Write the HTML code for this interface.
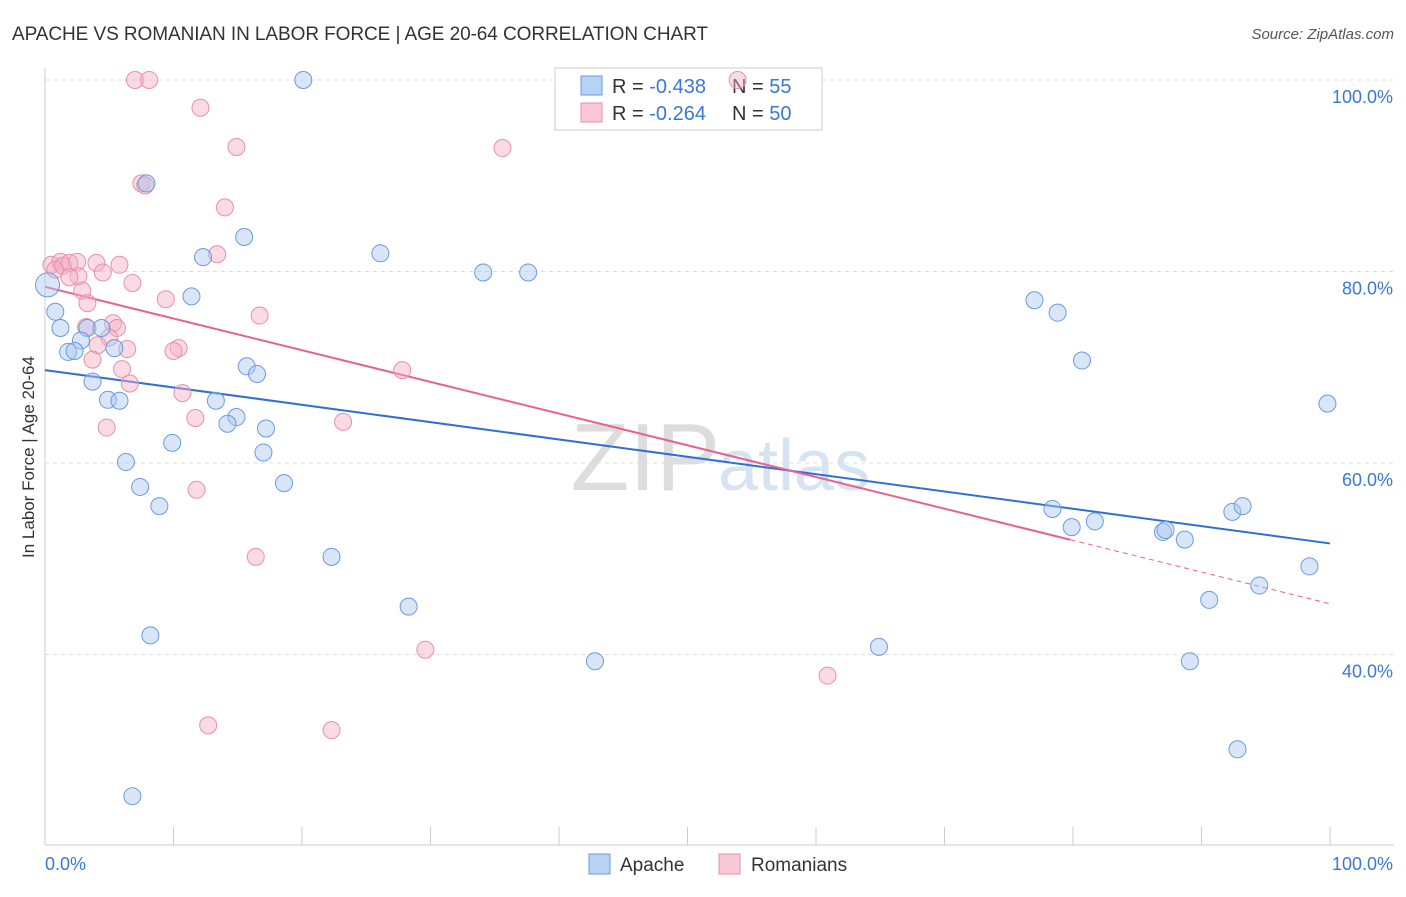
<!DOCTYPE html>
<html><head><meta charset="utf-8"><style>
body{margin:0;background:#fff;font-family:"Liberation Sans",sans-serif}
svg text{font-family:"Liberation Sans",sans-serif}
</style></head><body>
<svg id="c" width="1406" height="892">
<text x="12" y="40" font-size="19" fill="#333" textLength="696">APACHE VS ROMANIAN IN LABOR FORCE | AGE 20-64 CORRELATION CHART</text>
<text x="1394" y="39" font-size="15" fill="#555" text-anchor="end" font-style="italic">Source: ZipAtlas.com</text>
<text x="720" y="490" font-size="96" fill="#ddd" text-anchor="end" font-family="Liberation Serif">ZIP</text>
<text x="718" y="490" font-size="72" fill="#d5e3f3">atlas</text>
<text transform="translate(34,457) rotate(-90)" font-size="17" fill="#333" text-anchor="middle">In Labor Force | Age 20-64</text>
<g id="grid"></g><g id="trend"></g>
<g>
<rect x="555" y="68" width="267" height="62" fill="#fff" stroke="#ccc"/>
<rect x="581" y="76" width="21" height="19" fill="#b8d2f4" stroke="#6a9be0"/>
<rect x="581" y="103" width="21" height="19" fill="#f9c9d6" stroke="#e890a8"/>
<text x="612" y="93" font-size="20" fill="#333">R = <tspan fill="#3a78d8">-0.438</tspan></text>
<text x="732" y="93" font-size="20" fill="#333">N = <tspan fill="#3a78d8">55</tspan></text>
<text x="612" y="120" font-size="20" fill="#333">R = <tspan fill="#3a78d8">-0.264</tspan></text>
<text x="732" y="120" font-size="20" fill="#333">N = <tspan fill="#3a78d8">50</tspan></text>
</g>
<g id="pts"></g>
<g>
<rect x="589" y="854" width="21" height="20" fill="#b8d2f4" stroke="#6a9be0"/>
<text x="620" y="871" font-size="19" fill="#333">Apache</text>
<rect x="719" y="854" width="21" height="20" fill="#f9c9d6" stroke="#e890a8"/>
<text x="751" y="871" font-size="19" fill="#333">Romanians</text>
</g>
</svg>
<script>
const yTicks=[100,80,60,40];
const yTickLabels=["100.0%","80.0%","60.0%","40.0%"];
const xTickCount=10;
const apacheX=[20.1,7.9,15.5,12.3,26.1,34.1,37.6,11.4,0.8,1.2,3.3,4.4,2.8,5.4,1.8,2.3,15.7,16.5,3.7,4.9,5.8,13.3,14.9,14.2,17.2,9.9,17.0,6.3,18.6,7.4,8.9,22.3,28.3,8.2,42.8,64.9,6.8,77.0,78.8,80.7,99.8,78.4,79.9,81.7,87.0,87.2,88.7,92.4,93.2,90.6,94.5,98.4,89.1,92.8,0.2];
const apacheY=[100,89.2,83.6,81.5,81.9,79.9,79.9,77.4,75.8,74.1,74.1,74.1,72.8,72.0,71.6,71.7,70.1,69.3,68.5,66.6,66.5,66.5,64.8,64.1,63.6,62.1,61.1,60.1,57.9,57.5,55.5,50.2,45.0,42.0,39.3,40.8,25.2,77.0,75.7,70.7,66.2,55.2,53.3,53.9,52.8,53.0,52.0,54.9,55.5,45.7,47.2,49.2,39.3,30.1,78.6];
const romX=[7.0,8.1,12.1,14.9,35.6,7.5,7.8,14.0,13.4,0.5,1.2,0.8,1.4,1.9,2.5,4.0,5.8,4.5,2.6,1.9,2.9,6.8,9.4,3.3,16.7,5.3,3.2,5.6,5.0,4.1,6.4,10.4,10.0,3.7,6.0,27.8,6.6,10.7,11.7,23.2,4.8,11.8,16.4,29.6,60.9,12.7,22.3,53.9];
const romY=[100,100,97.1,93.0,92.9,89.2,89.0,86.7,81.8,80.7,81.0,80.2,80.6,80.9,81.0,80.9,80.7,79.9,79.5,79.4,78.0,78.8,77.1,76.7,75.4,74.6,74.2,74.1,73.1,72.3,71.9,72.0,71.7,70.8,69.8,69.7,68.3,67.3,64.7,64.3,63.7,57.2,50.2,40.5,37.8,32.6,32.1,100];
const apacheTrend=[69.7,51.6];
const romTrend=[78.4,45.3];
const romTrendSolidEnd=79.8;
const NS="http://www.w3.org/2000/svg";
const X=v=>45+v*12.85, Y=v=>80+(100-v)*9.575;
function mk(t,a,p){const e=document.createElementNS(NS,t);for(const k in a)e.setAttribute(k,a[k]);p.appendChild(e);return e;}
const grid=document.getElementById('grid');
mk('line',{x1:45,y1:68,x2:45,y2:845,stroke:'#ccc'},grid);
mk('line',{x1:45,y1:845,x2:1394,y2:845,stroke:'#ccc'},grid);
yTicks.forEach((t,i)=>{
 const l=mk('line',{x1:45,y1:Y(t),x2:1394,y2:Y(t),stroke:'#ddd','stroke-dasharray':'4,4'},grid);
 
 
 const tx=mk('text',{x:1393,y:Y(t)+23,'font-size':18,fill:'#3a78d8','text-anchor':'end'},grid);
 tx.textContent=yTickLabels[i];
 
 
});
for(let i=0;i<=xTickCount;i++){
 const x=X(i*100/xTickCount);
 const l=mk('line',{x1:x,y1:827,x2:x,y2:845,stroke:'#ccc'},grid);
 
 
}
const xl=mk('text',{x:45,y:870,'font-size':18,fill:'#3a78d8'},grid);xl.textContent='0.0%';


const xr=mk('text',{x:1393,y:870,'font-size':18,fill:'#3a78d8','text-anchor':'end'},grid);xr.textContent='100.0%';


const pts=document.getElementById('pts');
function dots(xs,ys,fill,stroke,name){
 xs.forEach((v,i)=>{
  const big=(name==='apache-point'&&i===xs.length-1);
  const c=mk('circle',{cx:X(v),cy:Y(ys[i]),r:big?12:8.5,fill:fill,'fill-opacity':0.45,stroke:stroke,'stroke-width':1},pts);
  
  
 });
}
dots(romX,romY,'#f5b0c4','#e890a8','romanian-point');
dots(apacheX,apacheY,'#a8c8f0','#6a9be0','apache-point');
const tr=document.getElementById('trend');
const at=mk('line',{x1:X(0),y1:Y(apacheTrend[0]),x2:X(100),y2:Y(apacheTrend[1]),stroke:'#2f6fd6','stroke-width':2},tr);


const ry=v=>romTrend[0]+(romTrend[1]-romTrend[0])*v/100;
const rt=mk('line',{x1:X(0),y1:Y(ry(0)),x2:X(romTrendSolidEnd),y2:Y(ry(romTrendSolidEnd)),stroke:'#e8628e','stroke-width':2},tr);


const rd=mk('line',{x1:X(romTrendSolidEnd),y1:Y(ry(romTrendSolidEnd)),x2:X(100),y2:Y(ry(100)),stroke:'#e8628e','stroke-width':1,'stroke-dasharray':'5,4'},tr);


</script>
</body></html>
